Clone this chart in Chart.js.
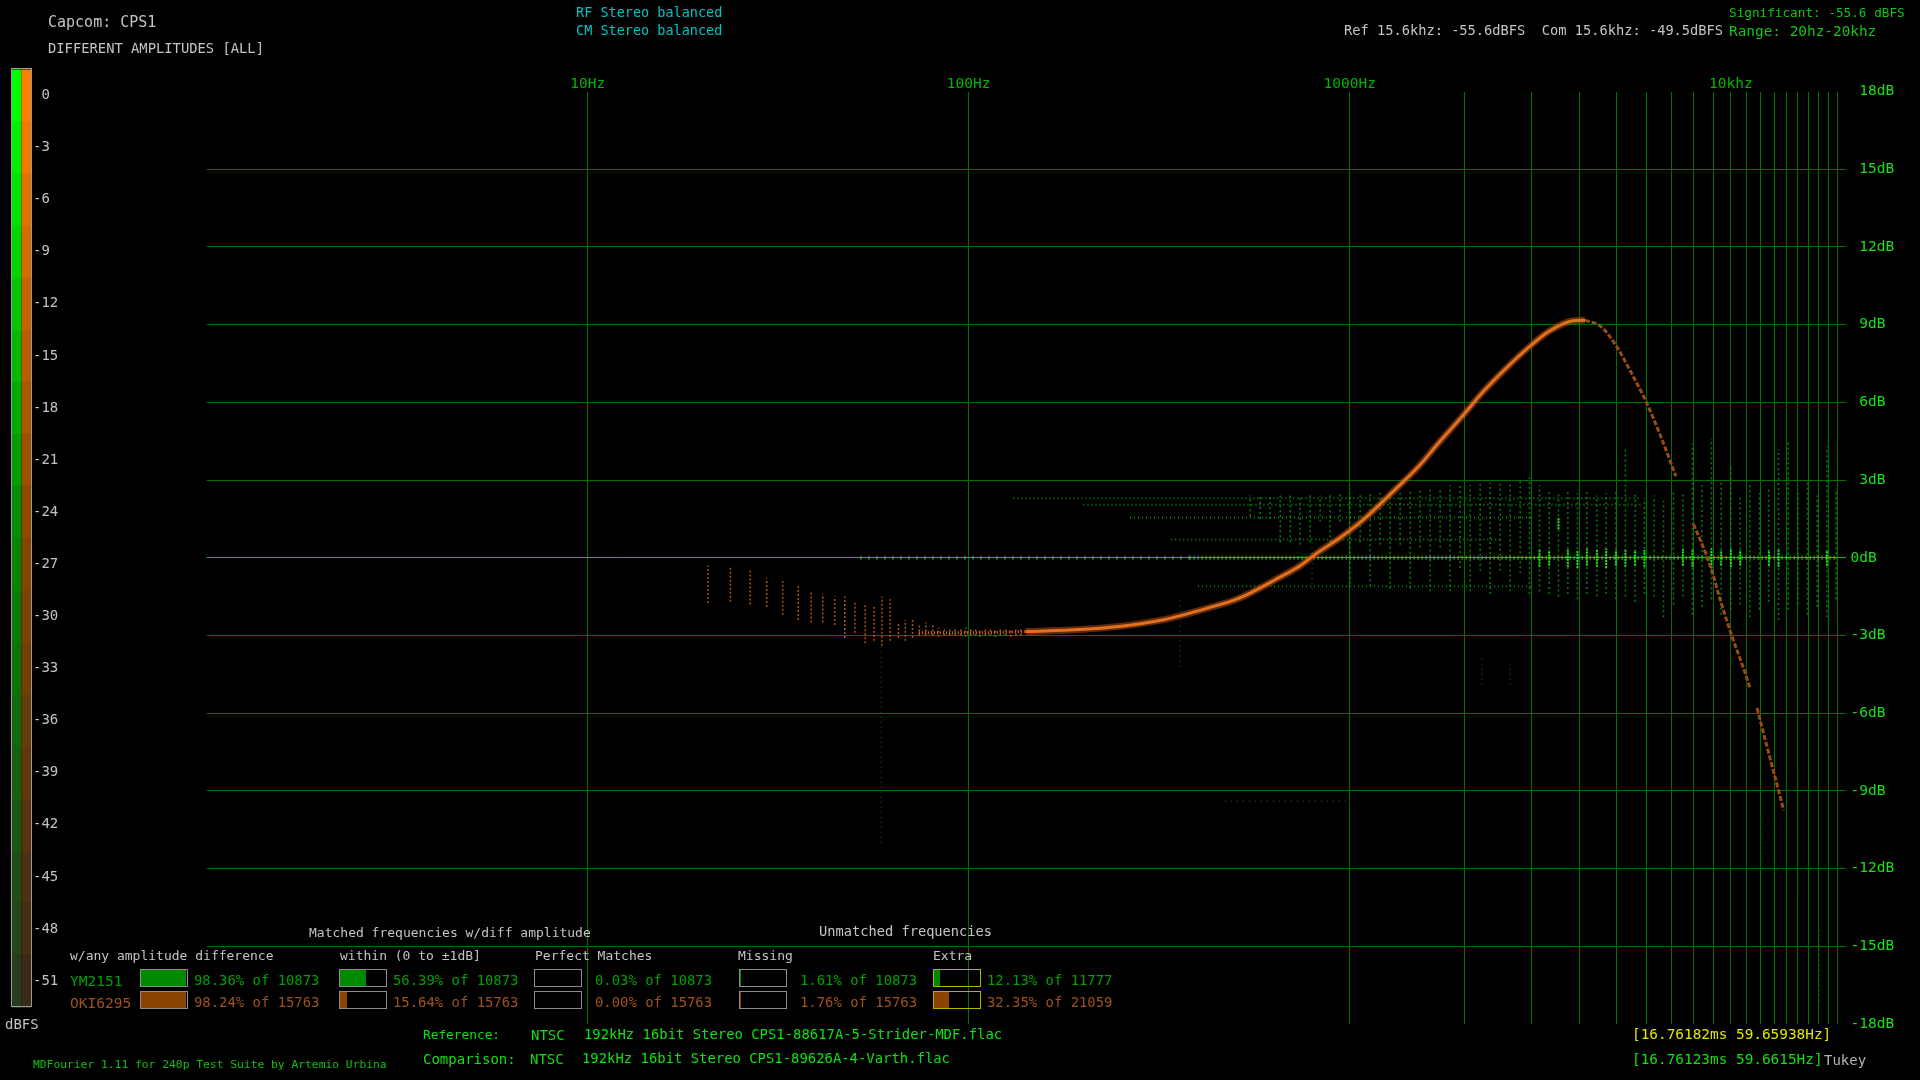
<!DOCTYPE html>
<html>
<head>
<meta charset="utf-8">
<title>MDFourier - Different Amplitudes [ALL]</title>
<script src="https://cdn.jsdelivr.net/npm/chart.js@4.4.0/dist/chart.umd.min.js"></script>
<style>
    html, body { margin: 0; padding: 0; background: #000; }
    #wrap { position: relative; width: 1920px; height: 1080px; overflow: hidden; background: #000; }
    #chart { position: absolute; left: 0; top: 0; }
    .t { position: absolute; white-space: pre; font-family: 'DejaVu Sans Mono', monospace; line-height: 1; }
    .box { position: absolute; box-sizing: border-box; width: 48px; height: 18px; border: 1px solid #8c8c8c; }
    .box i { position: absolute; left: 0; top: 0; bottom: 0; }
</style>
</head>
<body>
<div id="wrap"><canvas id="chart" width="1920" height="1080"></canvas></div>
<script>
// --- Axes ---
const gridFreq = [10, 100, 1000, 2000, 3000, 4000, 5000, 6000, 7000, 8000, 9000, 10000,
    11000, 12000, 13000, 14000, 15000, 16000, 17000, 18000, 19000];
const labelFreq = [10, 100, 1000, 10000];
const labelText = ['10Hz', '100Hz', '1000Hz', '10khz'];
const dbTicks = [18, 15, 12, 9, 6, 3, 0, -3, -6, -9, -12, -15, -18];
const scaleTicks = [0, -3, -6, -9, -12, -15, -18, -21, -24, -27, -30, -33, -36, -39, -42, -45, -48, -51];

// --- OKI6295 (comparison) difference curve ---
const okiRiseFreq = [74, 100, 141, 189, 248, 325, 425, 513, 637, 741, 815, 941, 1086, 1315, 1517,
    1710, 1974, 2223, 2566, 2962, 3340, 3855, 4142];
const okiRiseDb = [-2.9, -2.9, -2.85, -2.78, -2.65, -2.39, -1.94, -1.56, -0.85, -0.31, 0.15, 0.76,
    1.47, 2.63, 3.53, 4.43, 5.46, 6.36, 7.3, 8.15, 8.75, 9.15, 9.17];
const okiFallFreq = [4142, 4558, 5013, 5513, 5993, 6600, 7172, 7550, 7980, 8653, 9007, 9376,
    10070, 10700, 11220, 11500, 11720, 12440, 13050, 13770];
const okiFallDb = [9.17, 8.93, 8.16, 7.07, 6.03, 4.56, 3.15, null, 1.3, 0.06, -0.71, -1.61,
    -3.03, -4.1, -5.0, null, -5.8, -7.28, -8.44, -9.75];

// low frequency OKI6295 columns
const okiColFreq = [20.7, 23.7, 26.7, 29.5, 32.5, 35.7, 38.6, 41.4, 44.5, 47.3, 50.3, 53.5, 56.4,
    59.2, 62.2, 65.4, 68.2, 71.2, 74.2, 77.2, 80.5, 83.3, 86.3, 89.3, 92.1, 95.3, 98.2, 101.3,
    104.2, 107.2, 110.5, 114, 117.5, 121, 125, 129, 133, 137];
const okiColLo = [-1.75, -1.7, -1.8, -1.9, -2.2, -2.4, -2.5, -2.5, -2.6, -3.1, -2.9, -3.3, -3.2,
    -3.4, -3.2, -3.1, -3.2, -3.1, -3.0, -3.0, -3.0, -3.05, -3.0, -3.0, -3.0, -3.0, -3.05, -3.0,
    -3.0, -3.05, -3.0, -3.0, -3.05, -3.0, -3.0, -3.05, -3.0, -3.0];
const okiColHi = [-0.3, -0.35, -0.5, -0.8, -0.9, -1.1, -1.25, -1.4, -1.5, -1.5, -1.7, -1.8, -1.9,
    -1.5, -1.6, -2.5, -2.4, -2.4, -2.6, -2.5, -2.6, -2.7, -2.7, -2.75, -2.75, -2.7, -2.7, -2.7,
    -2.7, -2.75, -2.7, -2.7, -2.75, -2.7, -2.7, -2.75, -2.7, -2.7];

// --- YM2151 (reference) matched points ---
const ymRowDb = [2.3, 2.05, 1.55, 0.7, -1.1];
const ymRowFrom = [131, 200, 265, 340, 400];
const ymRowTo = [5800, 5800, 3000, 2500, 3000];
const ymZeroFrom = [52, 380];
const ymZeroTo = [380, 19000];

const ymColFreq = [548, 582, 618, 657, 698, 741, 787, 836, 888, 944, 1002, 1065, 1131, 1202, 1276,
    1356, 1441, 1530, 1626, 1727, 1834, 1949, 2070, 2199, 2336, 2482, 2636, 2801, 2963, 3148,
    3338, 3530, 3736, 3959, 4192, 4452, 4710, 4994, 5291, 5610, 5935, 6295, 6660, 7073, 7487,
    7933, 8398, 8899, 9436, 10005, 10585, 11222, 11894, 12589, 13345, 14150, 15006, 15903,
    16866, 17871, 18910];
const ymColLo = [1.6, 1.5, 1.5, 0.6, 0.6, 0.5, 0.6, 1.4, 0.6, 1.4, -1.0, 0.6, -1.1, 0.5, -1.2,
    0.5, -1.2, 0.4, -1.3, 0.4, -1.3, -0.4, -1.3, -0.5, -1.4, -0.5, -1.3, -0.6, -1.4, -1.3,
    -1.4, -1.5, -1.4, -1.6, -1.4, -1.5, -1.4, -1.6, -1.5, -1.7, -1.4, -1.5, -2.3, -1.8, -1.5,
    -2.2, -1.9, -1.6, -2.2, -2.0, -1.8, -2.3, -2.0, -1.7, -2.4, -2.0, -1.8, -2.2, -1.9, -2.3, -1.6];
const ymColHi = [2.4, 2.4, 2.4, 2.4, 2.4, 2.4, 2.5, 2.4, 2.5, 2.5, 2.5, 2.5, 2.5, 2.6, 2.6, 2.6,
    2.6, 2.7, 2.7, 2.7, 2.8, 2.8, 2.8, 2.9, 2.9, 2.9, 2.9, 3.0, 3.1, 2.8, 2.6, 2.5, 2.6, 2.5,
    2.6, 2.4, 2.5, 2.6, 4.3, 2.5, 2.3, 2.4, 2.2, 2.6, 2.5, 4.4, 2.8, 4.6, 2.9, 3.6, 2.4, 2.8,
    2.5, 2.7, 4.2, 4.5, 2.5, 2.9, 2.4, 4.3, 2.6];

const ymBrightFreq = [3148, 3338, 3530, 3736, 3959, 4192, 4452, 4710, 4994, 5291, 5610, 5935,
    7487, 7933, 8899, 9436, 10005, 10585, 12589, 13345, 17871];
const ymBrightLo = [-0.35, -0.3, 1.1, -0.35, -0.4, -0.3, -0.35, -0.4, -0.3, -0.35, -0.3, -0.35,
    -0.3, -0.35, -0.4, -0.3, -0.35, -0.3, -0.3, -0.35, -0.3];
const ymBrightHi = [0.35, 0.3, 1.55, 0.35, 0.3, 0.35, 0.3, 0.35, 0.3, 0.35, 0.3, 0.3,
    0.35, 0.3, 0.35, 0.3, 0.35, 0.3, 0.3, 0.35, 0.3];

// sparse outliers
const faintFreq = [59, 359, 796, 2222, 2636, 12000, 15000, 17100];
const faintLo = [-11.0, -4.2, -1.2, -4.9, -4.9, -12.0, -13.0, -17.1];
const faintHi = [-3.0, -1.6, 0.8, -3.8, -4.0, -10.0, -8.0, -14.2];
const faintRowDb = [-9.4];
const faintRowFrom = [470];
const faintRowTo = [985];

// --- Summary table ---
const seriesNames = ['YM2151', 'OKI6295'];
const ymPercent = [98.36, 56.39, 0.03, 1.61, 12.13];
const ymTotal = [10873, 10873, 10873, 10873, 11777];
const okiPercent = [98.24, 15.64, 0.00, 1.76, 32.35];
const okiTotal = [15763, 15763, 15763, 15763, 21059];

// builds vertical segments (freq, lo..hi) separated by gaps
function columns(freq, lo, hi) {
    const pts = [];
    freq.forEach((f, i) => {
        pts.push({ x: f, y: lo[i] }, { x: f, y: hi[i] }, { x: f, y: null });
    });
    return pts;
}

// builds horizontal segments (db, from..to) separated by gaps
function rows(db, from, to) {
    const pts = [];
    db.forEach((d, i) => {
        pts.push({ x: from[i], y: d }, { x: to[i], y: d }, { x: to[i], y: null });
    });
    return pts;
}

const xy = (xs, ys) => xs.map((x, i) => ({ x: x, y: ys[i] }));

const seg = { showLine: true, spanGaps: false, pointRadius: 0, pointHoverRadius: 0 };

// below ~140Hz the curve is only a row of short ticks
const lowEnd = 141;

// stepped colour scale on the left
function mix(a, b, t) {
    return 'rgb(' + a.map((v, i) => Math.round(v + (b[i] - v) * t)).join(',') + ')';
}
function stop3(c0, c1, c2, k) {
    return k <= 8 ? mix(c0, c1, k / 8) : mix(c1, c2, (k - 8) / 9);
}
const colourScale = {
    id: 'colourScale',
    beforeDraw(chart) {
        const c = chart.ctx;
        const top = 69.5, band = 52.1;
        for (let k = 0; k < 18; k++) {
            c.fillStyle = stop3([0, 255, 0], [0, 143, 0], [38, 60, 28], k);
            c.fillRect(12, top + k * band, 9.5, band + 0.5);
            c.fillStyle = stop3([255, 128, 0], [140, 74, 0], [60, 42, 22], k);
            c.fillRect(21.5, top + k * band, 9.5, band + 0.5);
        }
        c.strokeStyle = '#9a9a9a';
        c.lineWidth = 1;
        c.strokeRect(11.5, 68.5, 20, 938);
    }
};

const monoFont = 'DejaVu Sans Mono';

const chart = new Chart(document.getElementById('chart').getContext('2d'), {
    type: 'scatter',
    data: {
        datasets: [
            // on top: OKI6295 curve
            { ...seg, data: xy(okiRiseFreq, okiRiseDb), borderColor: '#e2701f', borderWidth: 3,
              cubicInterpolationMode: 'monotone',
              segment: { borderDash: (s) => (s.p0.parsed.x < lowEnd ? [1, 2] : undefined) } },
            { ...seg, data: xy(okiFallFreq, okiFallDb), borderColor: '#9a4a15', borderWidth: 3,
              borderDash: [5, 2], cubicInterpolationMode: 'monotone' },
            { ...seg, data: xy(okiRiseFreq, okiRiseDb), borderColor: 'rgba(185,82,18,0.5)', borderWidth: 7,
              cubicInterpolationMode: 'monotone',
              segment: { borderColor: (s) => (s.p0.parsed.x < lowEnd ? 'rgba(0,0,0,0)' : undefined) } },
            { ...seg, data: columns(okiColFreq, okiColLo, okiColHi), borderColor: 'rgba(205,100,20,0.85)',
              borderWidth: 1.5, borderDash: [2, 2] },
            // YM2151
            { ...seg, data: columns(ymBrightFreq, ymBrightLo, ymBrightHi), borderColor: '#22e622',
              borderWidth: 2, borderDash: [2, 1] },
            { ...seg, data: rows([0, 0], ymZeroFrom, ymZeroTo), borderColor: '#20dc20',
              borderWidth: 4, borderDash: [1, 3],
              segment: { borderDash: (s) => (s.p0.parsed.x < 380 ? [1, 7] : [1, 3]) } },
            { ...seg, data: columns(ymColFreq, ymColLo, ymColHi), borderColor: 'rgba(10,150,10,0.85)',
              borderWidth: 1.5, borderDash: [2, 3] },
            { ...seg, data: rows(ymRowDb, ymRowFrom, ymRowTo), borderColor: '#0d850d',
              borderWidth: 2, borderDash: [1, 3] },
            { ...seg, data: columns(faintFreq, faintLo, faintHi), borderColor: 'rgba(20,100,10,0.8)',
              borderWidth: 1.5, borderDash: [1, 4] },
            { ...seg, data: rows(faintRowDb, faintRowFrom, faintRowTo), borderColor: 'rgba(20,100,10,0.8)',
              borderWidth: 1.5, borderDash: [1, 5] }
        ]
    },
    options: {
        responsive: false,
        animation: false,
        devicePixelRatio: 1,
        layout: { padding: { left: 206.6, right: 0, top: 0, bottom: 56 } },
        plugins: { legend: { display: false }, tooltip: { enabled: false } },
        scales: {
            x: {
                type: 'logarithmic',
                position: 'top',
                min: 1,
                max: 20000,
                afterBuildTicks: (s) => { s.ticks = gridFreq.map(v => ({ value: v })); },
                afterFit: (s) => { s.height = 91.5; },
                border: { display: false },
                grid: { color: '#007000', lineWidth: 1, drawTicks: false },
                ticks: {
                    autoSkip: false,
                    maxRotation: 0,
                    padding: 0,
                    color: '#00b400',
                    font: { family: monoFont, size: 14.5, lineHeight: 1 },
                    callback: (v) => {
                        const i = labelFreq.indexOf(v);
                        return i >= 0 ? labelText[i] : '';
                    }
                }
            },
            y: {
                position: 'right',
                min: -18,
                max: 18,
                afterBuildTicks: (s) => { s.ticks = dbTicks.map(v => ({ value: v })); },
                afterFit: (s) => { s.width = 74.5; },
                border: { display: false },
                grid: {
                    drawTicks: false,
                    lineWidth: 1,
                    color: (c) => {
                        if (c.tick.value === 0) return '#00c800';
                        if (Math.abs(c.tick.value) === 18) return 'rgba(0,0,0,0)';
                        return '#007000';
                    }
                },
                ticks: {
                    padding: 5,
                    color: '#18e018',
                    font: { family: monoFont, size: 14.5 },
                    callback: (v) => (v > 0 ? ' ' : '') + v + 'dB'
                }
            }
        }
    },
    plugins: [colourScale]
});

// --- Text around the chart ---
const wrap = document.getElementById('wrap');
function addText(text, x, cy, color, size) {
    const el = document.createElement('div');
    el.className = 't';
    el.textContent = text;
    el.style.left = x + 'px';
    el.style.top = (cy - size / 2) + 'px';
    el.style.color = color;
    el.style.fontSize = size + 'px';
    wrap.appendChild(el);
    return el;
}
function addBox(x, y, pct, fill, border) {
    const b = document.createElement('div');
    b.className = 'box';
    b.style.left = x + 'px';
    b.style.top = y + 'px';
    b.style.borderColor = border;
    const f = document.createElement('i');
    f.style.width = Math.round(pct / 100 * 46) + 'px';
    f.style.background = fill;
    b.appendChild(f);
    wrap.appendChild(b);
}

const grey = '#c4c4c4';
addText('Capcom: CPS1', 48, 22, grey, 15);
addText('DIFFERENT AMPLITUDES [ALL]', 48, 49, grey, 13.8);
addText('RF Stereo balanced', 576, 13, '#00c4c4', 13.5);
addText('CM Stereo balanced', 576, 31, '#00c4c4', 13.5);
addText('Significant: -55.6 dBFS', 1729, 13, '#14c414', 12.7);
addText('Ref 15.6khz: -55.6dBFS  Com 15.6khz: -49.5dBFS', 1344, 31, grey, 13.7);
addText('Range: 20hz-20khz', 1729, 31, '#14c414', 14.4);

// colour scale labels
scaleTicks.forEach((v, k) => {
    addText(v === 0 ? ' 0' : String(v), 33, 94 + k * 52.1, grey, 14);
});
addText('dBFS', 5, 1024, grey, 14);

// summary table
addText('Matched frequencies w/diff amplitude', 309, 932, grey, 13);
addText('Unmatched frequencies', 819, 932, grey, 13.7);
const headX = [70, 340, 535, 738, 933];
const headText = ['w/any amplitude difference', 'within (0 to \u00b11dB]', 'Perfect Matches', 'Missing', 'Extra'];
headText.forEach((t, i) => addText(t, headX[i], 955, grey, 13));

const boxX = [140, 339, 534, 739, 933];
const pctX = [194, 393, 595, 800, 987];
const rowColor = ['#00a000', '#a0521c'];
const rowFill = ['#008a00', '#8b4500'];
const rowPct = [ymPercent, okiPercent];
const rowTotal = [ymTotal, okiTotal];
seriesNames.forEach((name, r) => {
    const cy = r === 0 ? 981 : 1003;
    addText(name, 70, cy, rowColor[r], 14.5);
    rowPct[r].forEach((p, i) => {
        addBox(boxX[i], cy - 12.5, p, rowFill[r], i === 4 ? '#b4b400' : '#8c8c8c');
        addText(p.toFixed(2) + '% of ' + rowTotal[r][i], pctX[i], cy, rowColor[r], 13.9);
    });
});

addText('MDFourier 1.11 for 240p Test Suite by Artemio Urbina', 33, 1065, '#10c010', 11.3);
addText('Reference:', 423, 1035, '#10e010', 12.8);
addText('NTSC', 531, 1035, '#10e010', 14);
addText('192kHz 16bit Stereo CPS1-88617A-5-Strider-MDF.flac', 584, 1035, '#10e010', 13.9);
addText('Comparison:', 423, 1059, '#10e010', 14);
addText('NTSC', 530, 1059, '#10e010', 14);
addText('192kHz 16bit Stereo CPS1-89626A-4-Varth.flac', 582, 1059, '#10e010', 13.9);
addText('[16.76182ms 59.65938Hz]', 1632, 1034, '#e6e600', 14.4);
addText('[16.76123ms 59.6615Hz]', 1632, 1059, '#10e010', 14.4);
addText('Tukey', 1824, 1060, '#b4b4b4', 14);
</script>
</body>
</html>
